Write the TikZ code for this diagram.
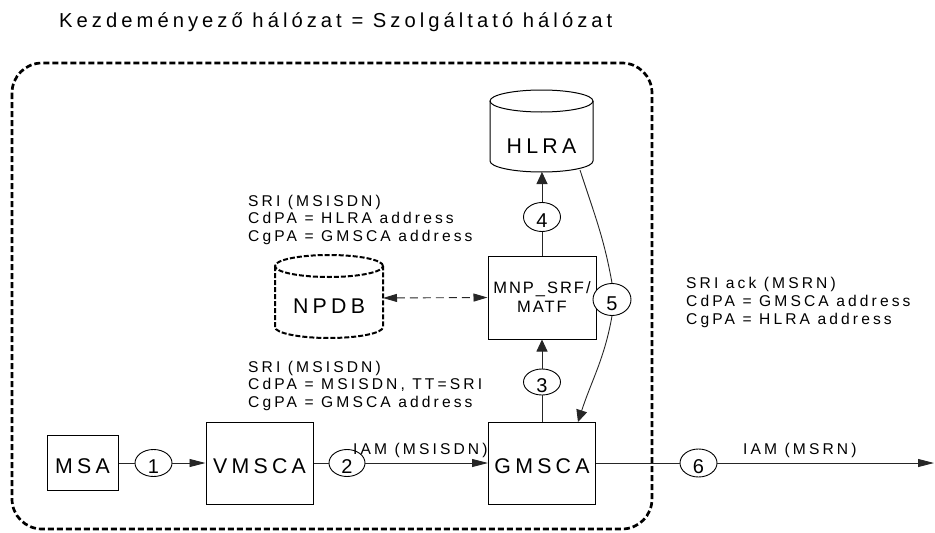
\documentclass[tikz,border=0pt]{standalone}
\usepackage{fontspec}
\setmainfont{Liberation Sans}[LetterSpace=20]
\newfontfamily\mnpfont{Liberation Sans}[LetterSpace=12]
\newfontfamily\digfont{Liberation Sans}
\usetikzlibrary{arrows.meta,shapes.geometric}
\newcommand{\dg}[1]{\raisebox{-10.7pt}[0pt][0pt]{#1}}
\tikzset{
  lbl/.style={anchor=base west, inner sep=0pt, font=\fontsize{15.6}{18}\selectfont},
  biglbl/.style={anchor=base, inner sep=0pt, font=\fontsize{21.3}{24}\selectfont},
  netbox/.style={draw, line width=1pt, inner sep=0pt, font=\fontsize{21.3}{24}\selectfont, text height=21pt, text depth=0pt},
  numel/.style={ellipse, draw, line width=0.9pt, inner sep=0pt, fill=white, font=\digfont\fontsize{20}{22}\selectfont},
  conn/.style={line width=0.9pt, draw=black!85},
  harr/.style={-{Triangle[length=16pt,width=8pt]}},
  varr/.style={-{Triangle[length=12pt,width=11pt]}},
  zonebox/.style={line width=2.7pt, dash pattern=on 6pt off 3pt, rounded corners=30pt},
  cylline/.style={line width=1pt},
  dbline/.style={line width=2pt, dash pattern=on 5pt off 2pt},
}
\begin{document}
\begin{tikzpicture}[x=1pt,y=1pt]
\useasboundingbox (0,0) rectangle (935,-533);

% title
\node[anchor=base west, inner sep=0pt, font=\fontsize{20.2}{23}\selectfont] (title) at (59,-27) {Kezdeményező hálózat = Szolgáltató hálózat};

% zone
\draw[zonebox] (12,-63) rectangle (652,-529);

% HLRA cylinder
\draw[cylline] (490,-101) -- (490,-161) arc (180:360:51.5pt and 11pt) -- (593,-101);
\draw[cylline] (541.5,-101) ellipse (51.5pt and 11pt);
\node[biglbl] (hlra) at (541.5,-153) {HLRA};
\coordinate (hlrab) at (542,-172);
\coordinate (hlrabr) at (580,-170);

% NPDB cylinder
\draw[dbline] (275,-266) -- (275,-327) arc (180:360:54pt and 11pt) -- (383,-266);
\draw[dbline] (329,-266) ellipse (54pt and 11pt);
\node[biglbl] (npdb) at (329,-313) {NPDB};
\coordinate (npdbr) at (383,-298);

% boxes
\node[netbox, minimum width=71pt, minimum height=55pt] (msa) at (82.5,-463) {MSA};
\node[netbox, minimum width=107pt, minimum height=82pt] (vmsca) at (259.5,-463) {VMSCA};
\node[netbox, minimum width=107pt, minimum height=82pt] (gmsca) at (542,-463) {GMSCA};
\node[draw, line width=1pt, minimum width=108pt, minimum height=83pt, inner sep=0pt, align=center, font=\mnpfont\fontsize{16.5}{19}\selectfont] (mnp) at (542,-297.5) {MNP\_SRF/\\MATF};

% numbered ellipses
\node[numel, minimum width=37pt, minimum height=27pt] (e1) at (153.5,-463) {\dg{1}};
\node[numel, minimum width=36pt, minimum height=27pt] (e2) at (347,-463) {\dg{2}};
\node[numel, minimum width=37pt, minimum height=26pt] (e3) at (542,-382) {\dg{3}};
\node[numel, minimum width=37pt, minimum height=29pt] (e4) at (542,-217) {\dg{4}};
\node[numel, minimum width=38pt, minimum height=32pt] (e5) at (612,-299.5) {\dg{5}};
\node[numel, minimum width=37pt, minimum height=28pt] (e6) at (698.5,-463) {\dg{6}};

\coordinate (g5) at (578,-422);
\coordinate (outend) at (934,-463);

% connectors
\draw[conn] (msa.east) -- (e1.west);
\draw[conn, harr] (e1.east) -- (vmsca.west);
\draw[conn] (vmsca.east) -- (e2.west);
\draw[conn, harr] (e2.east) -- (gmsca.west);
\draw[conn] (gmsca.east) -- (e6.west);
\draw[conn, harr] (e6.east) -- (outend);
\draw[conn] (gmsca.north) -- (e3.south);
\draw[conn, varr] (e3.north) -- (mnp.south);
\draw[conn] (mnp.north) -- (e4.south);
\draw[conn, varr] (e4.north) -- (hlrab);
\draw[conn] (hlrabr) to[out=-72, in=100] (e5.north);
\draw[conn, varr] (e5.south) to[out=-100, in=72] (g5);
\draw[conn, dash pattern=on 8pt off 5pt, {Triangle[length=14pt,width=8pt]}-{Triangle[length=14pt,width=8pt]}] (npdbr) -- (mnp.west);

% labels
\node[lbl] (t1a) at (248,-206) {SRI (MSISDN)};
\node[lbl] (t1b) at (248,-223.5) {CdPA = HLRA address};
\node[lbl] (t1c) at (248,-241) {CgPA = GMSCA address};
\node[lbl] (t2a) at (248,-372) {SRI (MSISDN)};
\node[lbl] (t2b) at (248,-389.5) {CdPA = MSISDN, TT=SRI};
\node[lbl] (t2c) at (248,-407) {CgPA = GMSCA address};
\node[lbl] (t3a) at (686,-288) {SRI ack (MSRN)};
\node[lbl] (t3b) at (686,-306) {CdPA = GMSCA address};
\node[lbl] (t3c) at (686,-324) {CgPA = HLRA address};
\node[lbl] (iam1) at (353,-454) {IAM (MSISDN)};
\node[lbl] (iam2) at (743,-454) {IAM (MSRN)};
\end{tikzpicture}
\end{document}
